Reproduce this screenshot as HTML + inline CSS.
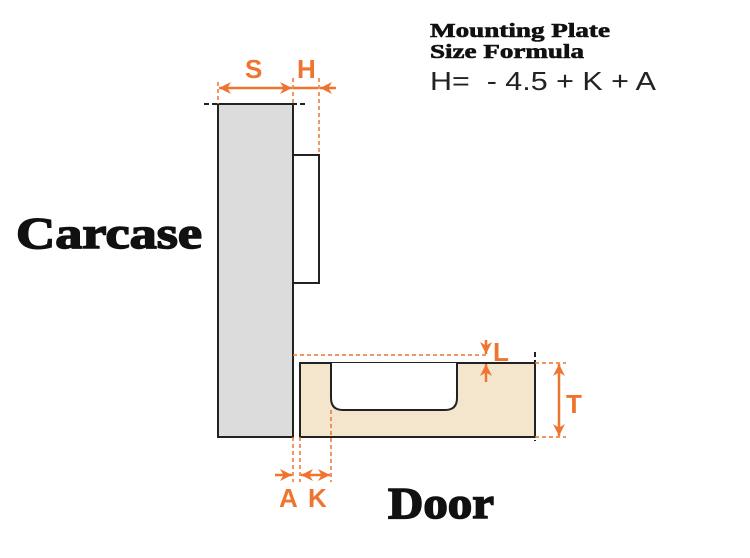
<!DOCTYPE html>
<html><head><style>body{margin:0;background:#fff}svg{display:block}</style></head>
<body>
<svg width="750" height="558" viewBox="0 0 750 558" xmlns="http://www.w3.org/2000/svg">
<defs>
<marker id="ar" viewBox="0 0 10 10" refX="10" refY="5" markerWidth="7" markerHeight="7" markerUnits="userSpaceOnUse" orient="auto-start-reverse"><path d="M0,0 L10,5 L0,10 L3,5 z" fill="#ee7430"/></marker>
<marker id="ab" viewBox="0 0 10 10" refX="10" refY="5" markerWidth="12" markerHeight="12" markerUnits="userSpaceOnUse" orient="auto-start-reverse"><path d="M0,0 L10,5 L0,10 L3,5 z" fill="#ee7430"/></marker>
</defs>
<rect x="218" y="104" width="75" height="333" fill="#dcdcdc" stroke="#222" stroke-width="2"/>
<rect x="293" y="155" width="26" height="128" fill="#fff" stroke="#222" stroke-width="2"/>
<rect x="300" y="363" width="235" height="74" fill="#f3e6cc" stroke="#222" stroke-width="2"/>
<path d="M331,363 V398 Q331,410 343,410 H445 Q457,410 457,398 V363" fill="#fff" stroke="#222" stroke-width="2"/>
<line x1="204" y1="104" x2="308" y2="104" stroke="#222" stroke-width="2" stroke-dasharray="5,3"/>
<line x1="535" y1="352" x2="535" y2="441" stroke="#222" stroke-width="2" stroke-dasharray="5,3"/>
<g stroke="#ee7430" stroke-width="1.5" stroke-dasharray="4,3" fill="none">
<line x1="218" y1="82" x2="218" y2="104"/>
<line x1="293" y1="78" x2="293" y2="104"/>
<line x1="319" y1="78" x2="319" y2="155"/>
<line x1="293" y1="355" x2="487" y2="355"/>
<line x1="535" y1="363" x2="566" y2="363"/>
<line x1="535" y1="437" x2="566" y2="437"/>
<line x1="293" y1="437" x2="293" y2="482"/>
<line x1="300" y1="437" x2="300" y2="482"/>
<line x1="331" y1="410" x2="331" y2="482"/>
</g>
<g stroke="#ee7430" stroke-width="2.5" fill="none">
<line x1="219" y1="88" x2="292" y2="88" marker-start="url(#ab)" marker-end="url(#ab)"/>
<line x1="293" y1="88" x2="318" y2="88"/>
<line x1="336" y1="88" x2="320" y2="88" marker-end="url(#ab)"/>
<line x1="486" y1="340" x2="486" y2="354" marker-end="url(#ab)"/>
<line x1="486" y1="382" x2="486" y2="364" marker-end="url(#ab)"/>
<line x1="559" y1="364" x2="559" y2="436" marker-start="url(#ab)" marker-end="url(#ab)"/>
<line x1="275" y1="475" x2="292" y2="475" marker-end="url(#ab)"/>
<line x1="301" y1="475" x2="330" y2="475" marker-start="url(#ab)" marker-end="url(#ab)"/>
</g>
<g fill="#ee7430" font-family="Liberation Sans, sans-serif" font-weight="bold" font-size="26">
<text x="245" y="78">S</text>
<text x="297" y="78">H</text>
<text x="493" y="361">L</text>
<text x="566" y="413">T</text>
<text x="279" y="507">A</text>
<text x="308" y="507">K</text>
</g>
<g font-family="Liberation Serif, serif" font-weight="bold" fill="#111" stroke="#111" stroke-width="1.5">
<text x="16" y="248" font-size="44" textLength="186" lengthAdjust="spacingAndGlyphs">Carcase</text>
<text x="388" y="518" font-size="44" textLength="106" lengthAdjust="spacingAndGlyphs">Door</text>
<text x="430" y="37" font-size="20" stroke-width="0.6" textLength="180" lengthAdjust="spacingAndGlyphs">Mounting Plate</text>
<text x="430" y="58" font-size="20" stroke-width="0.6" textLength="154" lengthAdjust="spacingAndGlyphs">Size Formula</text>
</g>
<text x="430" y="90" font-family="Liberation Sans, sans-serif" font-size="26" fill="#222" textLength="226" lengthAdjust="spacingAndGlyphs" xml:space="preserve">H=  - 4.5 + K + A</text>
</svg>
</body></html>
